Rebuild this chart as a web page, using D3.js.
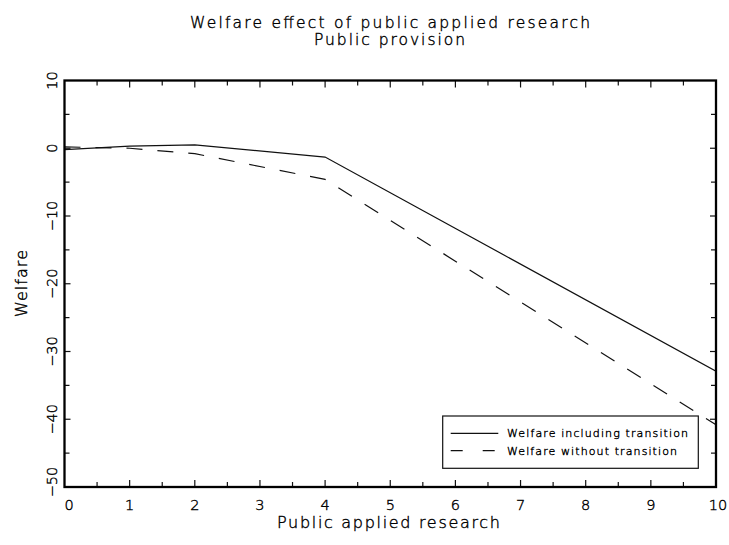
<!DOCTYPE html>
<html>
<head>
<meta charset="utf-8">
<script src="https://cdn.jsdelivr.net/npm/d3@7"></script>
<style>
  html, body { margin: 0; padding: 0; background: #fff; }
  svg { display: block; }
  text { font-family: "DejaVu Sans", "Liberation Sans", sans-serif; font-weight: 200;
         fill: #000; stroke: #000; stroke-width: 0.4; }
</style>
</head>
<body>
<svg id="chart" width="729" height="545"></svg>
<script>
// Public applied research levels where the welfare series are computed
const researchLevels = [0, 1, 2, 4, 10];
// Welfare, including the transition path
const welfareWithTransition = [-0.2, 0.3, 0.5, -1.3, -32.9];
// Welfare, ignoring the transition path
const welfareWithoutTransition = [0.2, 0.0, -0.8, -4.6, -40.8];

const xTickValues = [0, 1, 2, 3, 4, 5, 6, 7, 8, 9, 10];
const xMinorTicks = d3.range(0, 10.01, 0.5);
const yTickValues = [-50, -40, -30, -20, -10, 0, 10];
const yMinorTicks = d3.range(-50, 10.01, 5);

const titleLines = ["Welfare effect of public applied research", "Public provision"];
const xTitle = "Public applied research";
const yTitle = "Welfare";
const legendLabels = ["Welfare including transition", "Welfare without transition"];

const svg = d3.select("#chart");
const x = d3.scaleLinear().domain([0, 10]).range([64.5, 716]);
const y = d3.scaleLinear().domain([-50, 10]).range([487, 80.5]);

const fmt = v => (v < 0 ? "\u2212" + Math.abs(v) : String(v));

// Titles
svg.append("text").attr("x", 390).attr("y", 28).attr("text-anchor", "middle")
  .attr("font-size", 15.5).attr("textLength", 400).attr("lengthAdjust", "spacing")
  .text(titleLines[0]);
svg.append("text").attr("x", 389.5).attr("y", 44.8).attr("text-anchor", "middle")
  .attr("font-size", 15.5).attr("textLength", 151).attr("lengthAdjust", "spacing")
  .text(titleLines[1]);

// Data lines (clipped to the frame)
svg.append("clipPath").attr("id", "plotClip").append("rect")
  .attr("x", x(0)).attr("y", y(10)).attr("width", x(10) - x(0)).attr("height", y(-50) - y(10));

const line = d3.line().x(d => x(d[0])).y(d => y(d[1]));
const gLines = svg.append("g").attr("clip-path", "url(#plotClip)");
gLines.append("path")
  .datum(researchLevels.map((r, i) => [r, welfareWithTransition[i]]))
  .attr("d", line).attr("fill", "none").attr("stroke", "#111").attr("stroke-width", 1.2);
gLines.append("path")
  .datum(researchLevels.map((r, i) => [r, welfareWithoutTransition[i]]))
  .attr("d", line).attr("fill", "none").attr("stroke", "#111").attr("stroke-width", 1.2)
  .attr("stroke-dasharray", "16,15");

// Inward ticks on all four sides
const ticks = svg.append("g").attr("stroke", "#111").attr("stroke-width", 1.2);
xMinorTicks.forEach(v => {
  const len = Number.isInteger(v) ? 7 : 5;
  if (v > 0 && v < 10) {
    ticks.append("line").attr("x1", x(v)).attr("x2", x(v)).attr("y1", y(-50)).attr("y2", y(-50) - len);
    ticks.append("line").attr("x1", x(v)).attr("x2", x(v)).attr("y1", y(10)).attr("y2", y(10) + len);
  }
});
yMinorTicks.forEach(v => {
  const len = v % 10 === 0 ? 6 : 5;
  if (v > -50 && v < 10) {
    ticks.append("line").attr("x1", x(0)).attr("x2", x(0) + len).attr("y1", y(v)).attr("y2", y(v));
    ticks.append("line").attr("x1", x(10)).attr("x2", x(10) - len).attr("y1", y(v)).attr("y2", y(v));
  }
});

// Frame
svg.append("rect").attr("x", x(0)).attr("y", y(10))
  .attr("width", x(10) - x(0)).attr("height", y(-50) - y(10))
  .attr("fill", "none").attr("stroke", "#000").attr("stroke-width", 2.3);

// X tick labels
svg.append("g").selectAll("text").data(xTickValues).join("text")
  .attr("x", d => x(d) + (d === 0 ? 4.5 : 0) + (d === 10 ? 2 : 0))
  .attr("y", 510).attr("text-anchor", "middle").attr("font-size", 14.5)
  .text(d => fmt(d));

// Y tick labels, rotated
svg.append("g").selectAll("text").data(yTickValues).join("text")
  .attr("transform", d => `translate(57,${y(d) - (d === -50 ? 5 : 0)}) rotate(-90)`)
  .attr("text-anchor", "middle").attr("font-size", 14.5)
  .text(d => fmt(d));

// Axis titles
svg.append("text").attr("x", 388.5).attr("y", 528).attr("text-anchor", "middle")
  .attr("font-size", 16).attr("textLength", 223).attr("lengthAdjust", "spacing")
  .text(xTitle);
svg.append("text").attr("transform", "translate(27,283.5) rotate(-90)")
  .attr("text-anchor", "middle").attr("font-size", 16)
  .attr("textLength", 67).attr("lengthAdjust", "spacing")
  .text(yTitle);

// Legend
const legend = svg.append("g");
legend.append("rect").attr("x", 442.7).attr("y", 416).attr("width", 255.6).attr("height", 52.3)
  .attr("fill", "#fff").attr("stroke", "#111").attr("stroke-width", 1.2);
const legendDash = [null, "12,20"];
const legendLens = [181, 170];
legendLabels.forEach((lab, i) => {
  const ly = 433.3 + i * 17.4;
  legend.append("line").attr("x1", 450.7).attr("x2", 498.3).attr("y1", ly).attr("y2", ly)
    .attr("stroke", "#111").attr("stroke-width", 1.2)
    .attr("stroke-dasharray", legendDash[i]);
  legend.append("text").attr("x", 507).attr("y", ly + 4).attr("font-size", 11)
    .attr("textLength", legendLens[i]).attr("lengthAdjust", "spacing")
    .attr("stroke-width", 0.3)
    .text(lab);
});
</script>
</body>
</html>
